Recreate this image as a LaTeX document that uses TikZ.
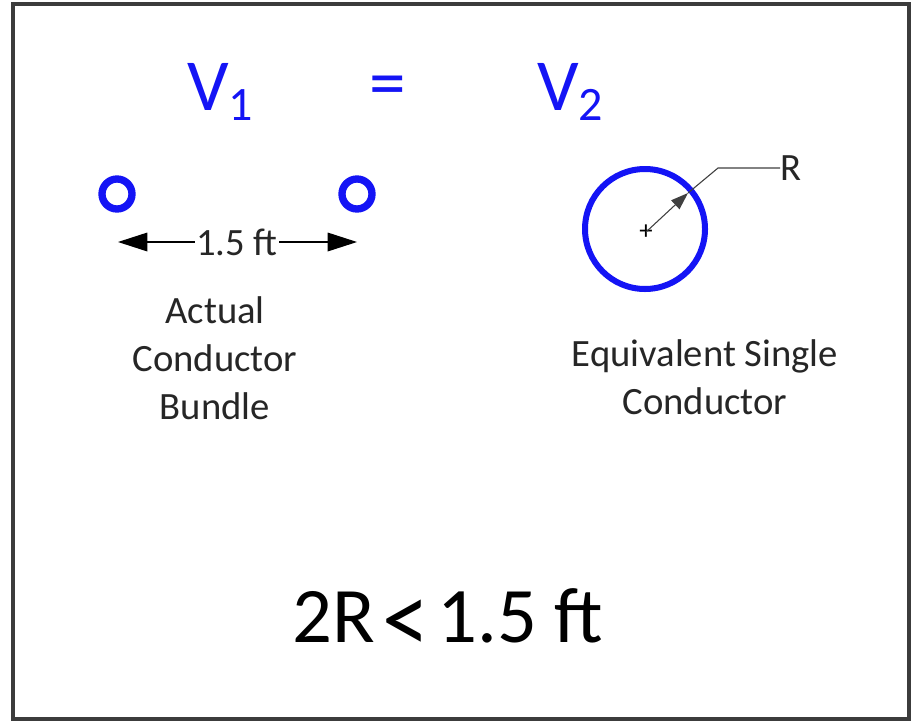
\documentclass[tikz,border=0pt]{standalone}
\usepackage{fontspec}
\setmainfont{Carlito}
\usetikzlibrary{arrows.meta}
\definecolor{vblue}{RGB}{20,20,245}
\definecolor{bordergray}{RGB}{60,60,60}
\tikzset{
  lbl/.style={font=\fontsize{29}{36}\selectfont, align=center, text=black!85, inner sep=0pt},
  eqn/.style={font=\fontsize{55}{60}\selectfont, text=vblue, inner sep=0pt, anchor=base},
  small/.style={draw=vblue, line width=5.5pt},
  big/.style={draw=vblue, line width=4.5pt},
  dimtip/.style={line width=0.9pt, -{Triangle[length=22pt,width=14pt]}},
  leader/.style={draw=black!75, line width=0.8pt},
}
\begin{document}
\begin{tikzpicture}[x=0.75pt,y=-0.75pt]
\useasboundingbox (0,0) rectangle (912,721);
\fill[white] (0,0) rectangle (912,721);
\draw[draw=bordergray, line width=2.5pt] (13,4) rectangle (909,719);
% equation
\node[eqn, anchor=base west] (v1) at (187,110) {V\raisebox{-0.14em}{\fontsize{36}{36}\selectfont 1}};
\node[eqn] (eq) at (388,107) {=};
\node[eqn, anchor=base west] (v2) at (537,110) {V\raisebox{-0.14em}{\fontsize{36}{36}\selectfont 2}};
% bundle
\coordinate (c1) at (117,194);
\coordinate (c2) at (357,194);
\draw[small] (c1) circle (15);
\draw[small] (c2) circle (15);
\coordinate (al) at (118,242);
\coordinate (ar) at (357,242);
\node[lbl, inner xsep=1pt] (d) at (237,242) {1.5 ft};
\draw[dimtip] (d.west) -- (al);
\draw[dimtip] (d.east) -- (ar);
\node[lbl] (t1) at (215,358) {Actual\\Conductor\\Bundle};
% equivalent
\coordinate (cc) at (645,229);
\draw[big] (cc) circle (60);
\node[font=\fontsize{20}{20}\selectfont, inner sep=0pt] (plus) at (646,232) {+};
\coordinate (edge) at (688,193);
\coordinate (elb) at (718,168);
\node[lbl, anchor=west] (R) at (780,168) {R};
\draw[leader, -{Triangle[length=13pt,width=9pt]}] (plus.center) -- (edge);
\draw[leader] (edge) -- (elb) -- (R.west);
\node[lbl] (t2) at (705,377) {Equivalent Single\\Conductor};
% inequality
\node[font=\fontsize{59}{60}\selectfont, text=black, inner sep=0pt, anchor=base west] (ineq) at (292,642) {2R\hspace{0.1em}\raisebox{-0.15em}{\scalebox{1.2}[1.3]{<}}\hspace{0.1em}1.5 ft};
\end{tikzpicture}
\end{document}
